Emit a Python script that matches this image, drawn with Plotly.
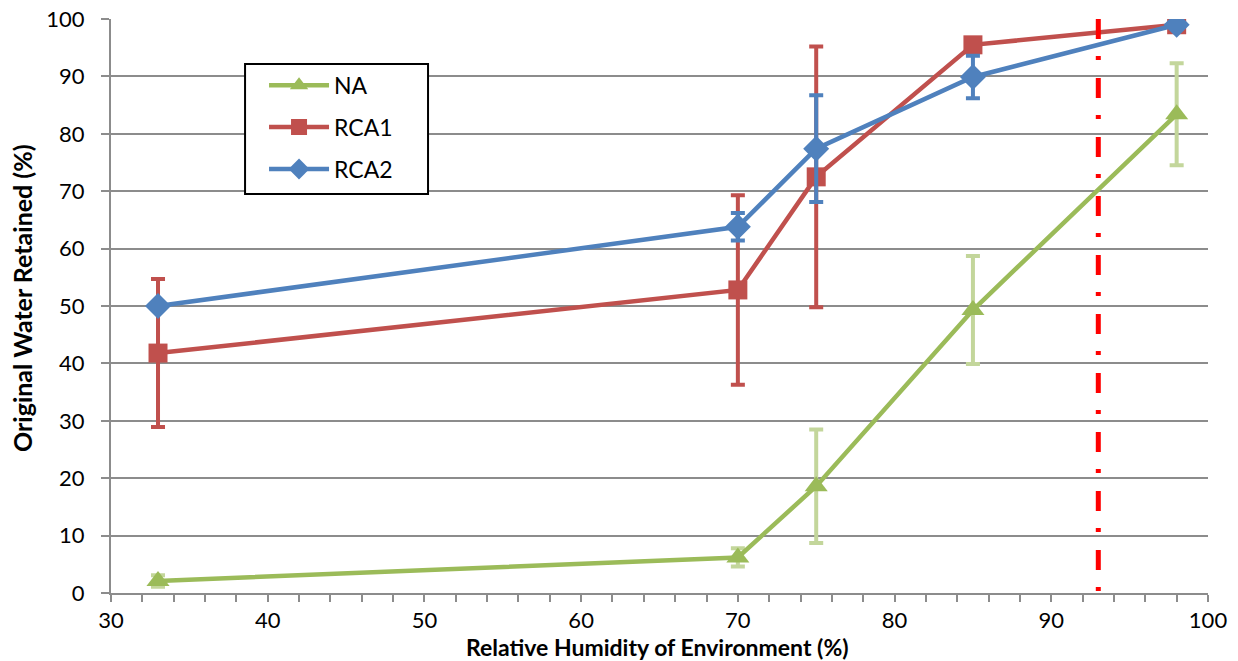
import plotly.graph_objects as go

rh = [33, 70, 75, 85, 98]

na = [2.1, 6.2, 18.6, 49.3, 83.4]
na_err = [1.0, 1.6, 9.9, 9.4, 8.9]

rca1 = [41.8, 52.8, 72.5, 95.5, 99.0]
rca1_err = [12.9, 16.5, 22.7, 0.0, 0.0]

rca2 = [50.0, 63.8, 77.4, 89.9, 99.0]
rca2_err = [0.0, 2.4, 9.3, 3.7, 0.0]

threshold_rh = 93

x_ticks = [30, 40, 50, 60, 70, 80, 90, 100]
y_ticks = [0, 10, 20, 30, 40, 50, 60, 70, 80, 90, 100]

FONT = "Lato"

fig = go.Figure()

fig.add_trace(go.Scatter(
    x=rh, y=rca1, name="RCA1", mode="lines+markers",
    line=dict(color="#C0504D", width=4.5),
    marker=dict(symbol="square", size=19, color="#C0504D"),
    error_y=dict(type="data", array=rca1_err, color="#C0504D", thickness=4, width=7),
    legendrank=2, legendgroup="b",
))
fig.add_trace(go.Scatter(
    x=rh, y=rca2, name="RCA2", mode="lines+markers",
    line=dict(color="#4F81BD", width=4.5),
    marker=dict(symbol="diamond", size=20, color="#4F81BD"),
    error_y=dict(type="data", array=rca2_err, color="#4F81BD", thickness=4, width=7),
    legendrank=3, legendgroup="c",
))
fig.add_trace(go.Scatter(
    x=rh, y=na, name="NA", mode="lines+markers",
    line=dict(color="#9BBB59", width=4.5),
    marker=dict(symbol="triangle-up", size=20, color="#9BBB59"),
    error_y=dict(type="data", array=na_err, color="#C3D69B", thickness=4, width=7),
    legendrank=1, legendgroup="a",
))

fig.add_shape(type="line", xref="x", yref="y",
              x0=threshold_rh, x1=threshold_rh, y0=100, y1=0,
              line=dict(color="#FF0000", width=5, dash="20px,17px,4px,18px"))

# legend frame
fig.add_shape(type="rect", xref="paper", yref="paper",
              x0=0.1222, x1=0.289, y0=0.6951, y1=0.9216,
              fillcolor="white", line=dict(color="black", width=2), layer="above")

fig.update_layout(
    width=1238, height=661,
    margin=dict(l=111, r=30, t=19, b=68),
    paper_bgcolor="white", plot_bgcolor="white",
    font=dict(family=FONT, size=22, color="black"),
    showlegend=True,
    legend=dict(
        x=0.1395, y=0.922, xanchor="left", yanchor="top",
        bgcolor="rgba(0,0,0,0)", borderwidth=0,
        font=dict(family=FONT, size=23, color="black"),
        itemwidth=60, tracegroupgap=9,
        traceorder="grouped",
        itemsizing="trace",
    ),
    xaxis=dict(
        range=[30, 100], tickvals=x_ticks, ticktext=[str(v) for v in x_ticks],
        showgrid=False, showline=True, linecolor="#8C8C8C", linewidth=2,
        ticks="outside", ticklen=7, tickcolor="#8C8C8C", tickwidth=1.5,
        minor=dict(dtick=2, ticks="outside", ticklen=7, tickcolor="#8C8C8C", tickwidth=1.5, showgrid=False),
        tickfont=dict(family=FONT, size=22),
        ticklabelstandoff=0,
        zeroline=False, automargin=False,
    ),
    yaxis=dict(
        range=[0, 100], tickvals=y_ticks, ticktext=[str(v) for v in y_ticks],
        showgrid=True, gridcolor="#8C8C8C", gridwidth=2,
        showline=True, linecolor="#8C8C8C", linewidth=2,
        ticks="outside", ticklen=8, tickcolor="#8C8C8C", tickwidth=1.5,
        tickfont=dict(family=FONT, size=22),
        ticklabelstandoff=12,
        zeroline=False, automargin=False,
    ),
)

fig.add_annotation(
    text="<b>Relative Humidity of Environment (%)</b>",
    xref="paper", yref="paper", x=0.498, y=0, yshift=-54, xanchor="center", yanchor="middle",
    showarrow=False, font=dict(family=FONT, size=23, color="black"),
)
fig.add_annotation(
    text="<b>Original Water Retained (%)</b>",
    xref="paper", yref="paper", x=0, y=0.514, xshift=-89, xanchor="center", yanchor="middle",
    textangle=-90, showarrow=False, font=dict(family=FONT, size=25, color="black"),
)

fig.write_html("out.html")
